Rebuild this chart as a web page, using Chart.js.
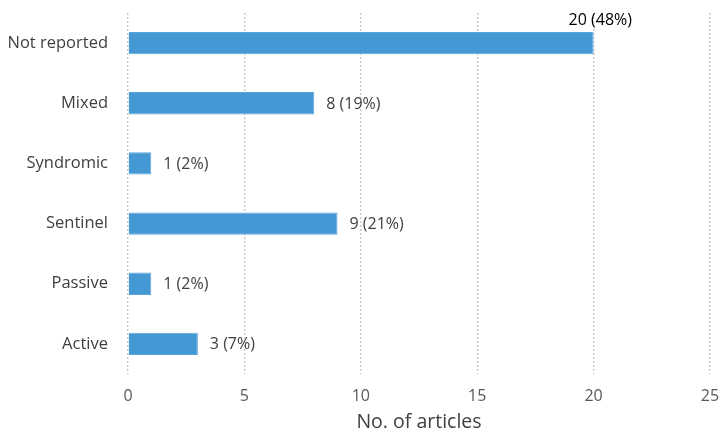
<!DOCTYPE html>
<html>
<head>
<meta charset="utf-8">
<script src="https://cdn.jsdelivr.net/npm/chart.js@4"></script>
<style>
  html, body { margin: 0; padding: 0; background: #fff; }
  #wrap { width: 721px; height: 431px; }
</style>
</head>
<body>
<div id="wrap"><canvas id="canvas"></canvas></div>
<script>
// Categories (top to bottom)
const categories = ['Not reported', 'Mixed', 'Syndromic', 'Sentinel', 'Passive', 'Active'];
// Number of articles
const counts = [20, 8, 1, 9, 1, 3];
// Value labels shown next to each bar
const valueLabels = ['20 (48%)', '8 (19%)', '1 (2%)', '9 (21%)', '1 (2%)', '3 (7%)'];

// small plugin to write the labels at the end of each bar
const barLabels = {
  id: 'barLabels',
  afterDatasetsDraw(chart) {
    const ctx = chart.ctx;
    const meta = chart.getDatasetMeta(0);
    ctx.save();
    ctx.font = '16px "Open Sans"';
    ctx.textBaseline = 'middle';
    ctx.textAlign = 'left';
    meta.data.forEach((bar, i) => {
      const txt = valueLabels[i];
      const w = ctx.measureText(txt).width;
      if (bar.x + 12 + w > chart.chartArea.right - 60) {
        // no room beside the bar, put it above the end
        ctx.fillStyle = '#000';
        ctx.fillText(txt, bar.x - 25, bar.y - 23);
      } else {
        ctx.fillStyle = '#404040';
        ctx.fillText(txt, bar.x + 12, bar.y + 1);
      }
    });
    ctx.restore();
  }
};

const data = {
  labels: categories,
  datasets: [{
    data: counts,
    backgroundColor: '#4499d4',
    borderColor: '#5aa6dc',
    borderWidth: 1,
    barPercentage: 0.37,
    categoryPercentage: 1
  }]
};

const config = {
  type: 'bar',
  data: data,
  plugins: [barLabels],
  options: {
    indexAxis: 'y',
    responsive: true,
    maintainAspectRatio: false,
    animation: false,
    layout: { padding: { top: 13, right: 11, left: 6, bottom: 0 } },
    plugins: {
      legend: { display: false },
      tooltip: { enabled: false }
    },
    scales: {
      x: {
        min: 0,
        max: 25,
        ticks: { stepSize: 5, color: '#595959', font: { family: 'Open Sans', size: 16 }, padding: 13 },
        grid: { color: '#c8c8c8', lineWidth: 1.4, tickLength: 0 },
        border: { display: false, dash: [2, 2] },
        title: { display: true, text: 'No. of articles', color: '#404040', font: { family: 'Open Sans', size: 19.5 }, padding: { top: 0, bottom: -3 } },
        afterFit(scale) {
          scale.height = 57;
          scale.paddingLeft = 0;
          scale.paddingRight = 0;
        }
      },
      y: {
        ticks: { color: '#404040', font: { family: 'Open Sans', size: 16.5 }, padding: 12 },
        grid: { display: false },
        border: { display: false },
        afterFit(scale) {
          scale.width = 122;
          scale.paddingTop = 0;
          scale.paddingBottom = 0;
        }
      }
    }
  }
};

const canvas = document.getElementById('canvas');
const chart = new Chart(canvas, config);
</script>
</body>
</html>
